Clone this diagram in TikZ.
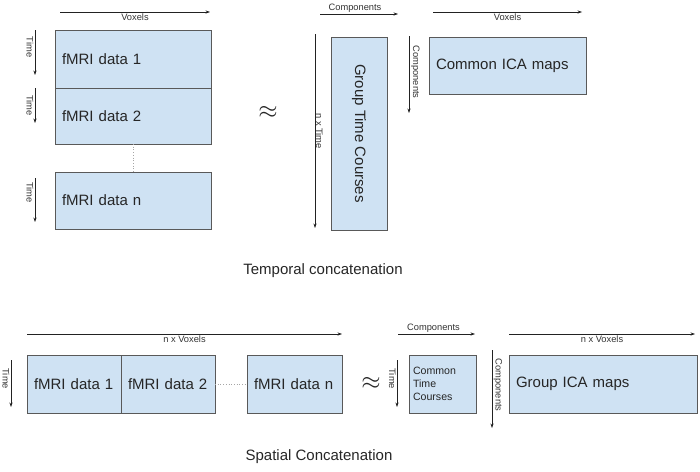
\documentclass[tikz,border=0pt]{standalone}
\usepackage{fontspec}
\setmainfont{Liberation Sans}
\usetikzlibrary{arrows.meta}
\definecolor{boxfill}{HTML}{CFE2F3}
\definecolor{boxline}{HTML}{595959}
\definecolor{axcol}{HTML}{222222}
\tikzset{
  mat/.style={draw=boxline, fill=boxfill, line width=1pt, inner xsep=7pt, inner ysep=0pt,
    anchor=north west, align=left, outer sep=0pt, font=\fontsize{15}{18}\selectfont, text=black!85},
  axis/.style={-{Stealth[length=4.5pt,width=3.2pt]}, line width=0.6pt, draw=axcol},
  lbl/.style={font=\fontsize{9.3}{11}\selectfont, text=black!80, inner sep=1pt},
  vlbl/.style={lbl, rotate=-90},
  dotline/.style={draw=gray!70, dotted, line width=0.7pt},
  title/.style={font=\fontsize{15}{18}\selectfont, text=black!85},
  approx/.style={font=\fontsize{26}{28}\selectfont, text=black!85}
}
\begin{document}
\begin{tikzpicture}[x=1pt,y=-1pt]
\useasboundingbox (0,0) rectangle (700,471);
% ---------- Temporal concatenation ----------
\node[mat, minimum width=156pt, minimum height=58pt, text width=142pt] (d1) at (55,30) {fMRI data 1};
\node[mat, minimum width=156pt, minimum height=56pt, text width=142pt] (d2) at (55,88) {fMRI data 2};
\node[mat, minimum width=156pt, minimum height=57pt, text width=142pt] (dn) at (55,172) {fMRI data n};
\draw[dotline] (d2.south) -- (dn.north);

\coordinate (vx1s) at (60,12); \coordinate (vx1e) at (210,12);
\draw[axis] (vx1s) -- node[below, lbl] {Voxels} (vx1e);
\coordinate (t1s) at (35,30); \coordinate (t1e) at (35,75);
\draw[axis] (t1s) -- node[xshift=-5pt, pos=0.38, vlbl] {Time} (t1e);
\coordinate (t2s) at (35,88); \coordinate (t2e) at (35,123);
\draw[axis] (t2s) -- node[xshift=-5pt, pos=0.5, vlbl] {Time} (t2e);
\coordinate (t3s) at (35,178); \coordinate (t3e) at (35,222);
\draw[axis] (t3s) -- node[xshift=-5pt, pos=0.33, vlbl] {Time} (t3e);

\node[approx] (ap1) at (268,112) {$\approx$};

\node[mat, rotate=-90, anchor=center, align=center, inner xsep=0pt, minimum width=193pt, minimum height=56pt] (gtc) at (359,133.5) {Group Time Courses};
\coordinate (c1s) at (320,14); \coordinate (c1e) at (398,14);
\draw[axis] (c1s) -- node[above, lbl, xshift=-4pt] {Components} (c1e);
\coordinate (nts) at (315,34); \coordinate (nte) at (315,228);
\draw[axis] (nts) -- node[xshift=4.5pt, pos=0.5, vlbl] {n x Time} (nte);

\node[mat, minimum width=157pt, minimum height=57pt, text width=143pt] (cica) at (429,37) {Common ICA maps};
\coordinate (vx2s) at (433,12); \coordinate (vx2e) at (582,12);
\draw[axis] (vx2s) -- node[below, lbl] {Voxels} (vx2e);
\coordinate (c2s) at (409,36); \coordinate (c2e) at (409,113);
\draw[axis] (c2s) -- node[xshift=6.5pt, pos=0.47, vlbl] {Components} (c2e);

\node[title] (tt1) at (323,271) {Temporal concatenation};

% ---------- Spatial concatenation ----------
\node[mat, minimum width=94pt, minimum height=58pt, text width=80pt] (s1) at (27,355) {fMRI data 1};
\node[mat, minimum width=94pt, minimum height=58pt, text width=80pt] (s2) at (121,355) {fMRI data 2};
\node[mat, minimum width=95pt, minimum height=58pt, text width=81pt] (sn) at (247,355) {fMRI data n};
\draw[dotline, dotted, line width=0.5pt] (s2.east) -- (sn.west);

\coordinate (nv1s) at (27,334); \coordinate (nv1e) at (342,334);
\draw[axis] (nv1s) -- node[below, lbl] {n x Voxels} (nv1e);
\coordinate (t4s) at (11,360); \coordinate (t4e) at (11,407);
\draw[axis] (t4s) -- node[xshift=-5pt, pos=0.4, vlbl] {Time} (t4e);

\node[approx] (ap2) at (371,383) {$\approx$};

\node[mat, minimum width=67pt, minimum height=58pt, text width=59pt, inner xsep=4pt, font=\fontsize{10.6}{13}\selectfont] (ctc) at (409,355) {Common\\Time\\Courses};
\coordinate (c3s) at (398,334); \coordinate (c3e) at (475,334);
\draw[axis] (c3s) -- node[above, lbl, xshift=-3pt] {Components} (c3e);
\coordinate (t5s) at (397,360); \coordinate (t5e) at (397,407);
\draw[axis] (t5s) -- node[xshift=-4.5pt, pos=0.4, vlbl] {Time} (t5e);

\node[mat, minimum width=188pt, minimum height=58pt, text width=174pt] (gica) at (509,355) {Group ICA maps};
\coordinate (c4s) at (492,350); \coordinate (c4e) at (492,428);
\draw[axis] (c4s) -- node[xshift=6pt, pos=0.45, vlbl] {Components} (c4e);
\coordinate (nv2s) at (509,334); \coordinate (nv2e) at (695,334);
\draw[axis] (nv2s) -- node[below, lbl] {n x Voxels} (nv2e);

\node[title] (tt2) at (319,457) {Spatial Concatenation};
\end{tikzpicture}
\end{document}
